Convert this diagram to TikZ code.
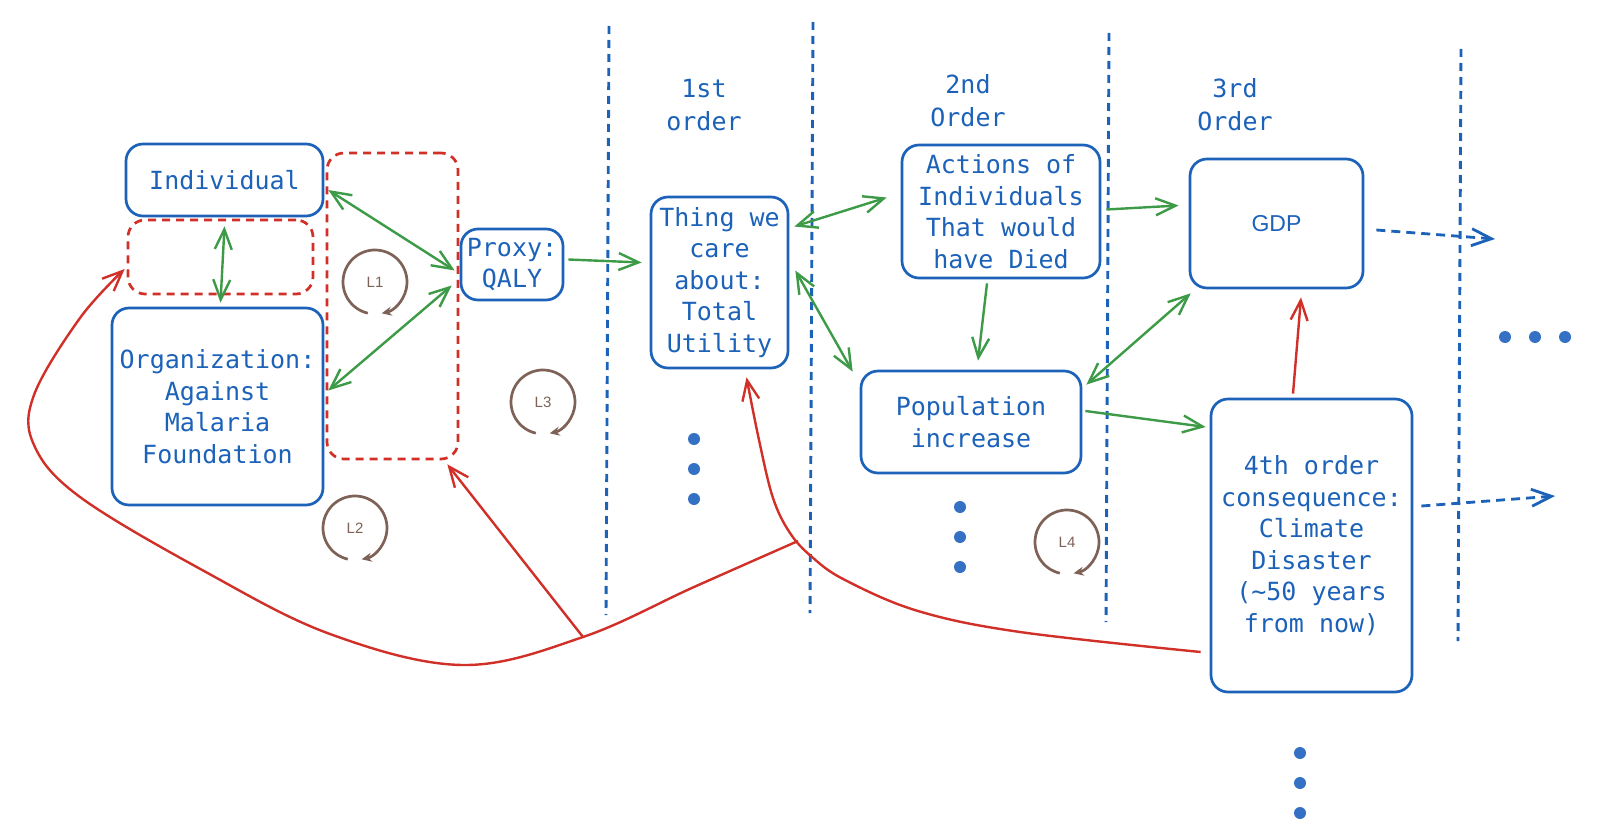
\documentclass[tikz,border=0pt]{standalone}
\usepackage{fontspec}
\setsansfont{Liberation Sans}
\newfontfamily\cmono{DejaVu Sans Mono}
\usetikzlibrary{arrows.meta,calc}
\definecolor{cblue}{HTML}{1C62B9}
\definecolor{cdot}{HTML}{3470C4}
\definecolor{cgreen}{HTML}{3D9A47}
\definecolor{cred}{HTML}{D03028}
\definecolor{cbrown}{HTML}{7E6257}
\begin{document}
\begin{tikzpicture}[x=1pt,y=-1pt,
  >={Straight Barb[length=20pt,width=17pt]},
  box/.style={draw=cblue, line width=2.7pt, rounded corners=17pt, text=cblue,
    font=\cmono\fontsize{25}{31.5}\selectfont, align=center, inner sep=0pt},
  rbox/.style={draw=cred, line width=2.7pt, dash pattern=on 8pt off 6pt, rounded corners=17pt, inner sep=0pt},
  garr/.style={draw=cgreen, line width=2.4pt},
  rarr/.style={draw=cred, line width=2.4pt},
  vline/.style={draw=cblue, line width=2.9pt, dash pattern=on 8pt off 6pt},
  dasharr/.style={draw=cblue, line width=2.8pt, dash pattern=on 9pt off 6pt},
  cyc/.style={draw=cbrown, line width=2.7pt, -{Stealth[length=10pt,width=9pt]}},
  looplab/.style={text=cbrown, font=\sffamily\fontsize{15}{15}\selectfont, inner sep=0pt},
  ordlab/.style={text=cblue, font=\cmono\fontsize{25}{33}\selectfont, align=center},
  bdot/.style={circle, fill=cdot, inner sep=0pt, minimum size=12pt}
]
\fill[white] (0,0) rectangle (1600,832);
\useasboundingbox (0,0) rectangle (1600,832);

% vertical dashed separators
\coordinate (v1a) at (609,26);  \coordinate (v1b) at (606,615);
\coordinate (v2a) at (813,22);  \coordinate (v2b) at (810,613);
\coordinate (v3a) at (1109,33); \coordinate (v3b) at (1106,622);
\coordinate (v4a) at (1461,49); \coordinate (v4b) at (1458,641);
\draw[vline] (v1a) -- (v1b);
\draw[vline] (v2a) -- (v2b);
\draw[vline] (v3a) -- (v3b);
\draw[vline] (v4a) -- (v4b);

% order labels
\node[ordlab] (o1) at (704,105) {1st\\order};
\node[ordlab] (o2) at (968,101) {2nd\\Order};
\node[ordlab] (o3) at (1235,105) {3rd\\Order};

% red dashed groups
\node[rbox, minimum width=185pt, minimum height=74pt] (rs) at (220.5,257) {};
\node[rbox, minimum width=131pt, minimum height=306pt] (rt) at (392.5,306) {};

% boxes
\node[box, minimum width=197pt, minimum height=72pt] (ind) at (224.5,180) {Individual};
\node[box, minimum width=211pt, minimum height=197pt] (org) at (217.5,406.5) {Organization:\\Against\\Malaria\\Foundation};
\node[box, minimum width=102pt, minimum height=71pt] (proxy) at (512,264.5) {Proxy:\\QALY};
\node[box, minimum width=137pt, minimum height=171pt] (thing) at (719.5,282.5) {Thing we\\care\\about:\\Total\\Utility};
\node[box, minimum width=198pt, minimum height=133pt] (act) at (1001,211.5) {Actions of\\Individuals\\That would\\have Died};
\node[box, minimum width=220pt, minimum height=102pt] (pop) at (971,422) {Population\\increase};
\node[box, minimum width=173pt, minimum height=129pt, font=\sffamily\fontsize{23}{23}\selectfont] (gdp) at (1276.5,223.5) {GDP};
\node[box, minimum width=201pt, minimum height=293pt] (fourth) at (1311.5,545.5) {4th order\\consequence:\\Climate\\Disaster\\(\textasciitilde50 years\\from now)};

% green connectors
\draw[garr,<->] ($(ind.south)+(0,9)$) -- ($(org.north)+(3,-4)$);
\draw[garr,<->] ($(ind.east)+(4,10)$) -- ($(proxy.west)+(-5,6)$);
\draw[garr,<->] ($(org.east)+(4,-16)$) -- ($(proxy.west)+(-8,21)$);
\draw[garr,->] ($(proxy.east)+(4,-5)$) -- ($(thing.west)+(-8,-20)$);
\draw[garr,<->] ($(thing.east)+(5,-56)$) -- ($(act.west)+(-14,-14)$);
\draw[garr,<->] ($(thing.east)+(6,-12)$) -- ($(pop.north west)+(-7,2)$);
\draw[garr,->] ($(act.south)+(-14,4)$) -- ($(pop.north)+(7,-9)$);
\draw[garr,->] ($(act.east)+(5,-2)$) -- ($(gdp.west)+(-10,-18)$);
\draw[garr,<->] ($(gdp.south west)+(2,4)$) -- ($(pop.north east)+(4,15)$);
\draw[garr,->] ($(pop.east)+(3,-11)$) -- ($(fourth.west)+(-4,-118.5)$);

% red connectors
\draw[rarr,->] ($(fourth.north)+(-18.5,-4)$) -- ($(gdp.south)+(24.5,8)$);
\coordinate (aS) at ($(fourth.west)+(-9,106.5)$);
\coordinate (aE) at ($(thing.south)+(27,8)$);
\draw[rarr,->] plot[smooth, tension=0.6] coordinates {(aS) (1020,632) (918,611) (845,580) (812,557) (790,533) (773,498) (759,440) (aE)};
\coordinate (bS) at (798,541);
\coordinate (jB) at (583,637);
\coordinate (bE) at ($(rs.west)+(-2,12)$);
\draw[rarr,->] plot[smooth, tension=0.6] coordinates {(bS) (694,587) (jB) (463,665) (330,634) (204,571) (80,497) (34,445) (34,395) (80,318) (bE)};
\draw[rarr,->] (jB) -- ($(rt.south east)+(-12,4)$);

% dashed outgoing arrows
\coordinate (g2) at (1495,239);
\coordinate (f2) at (1555,496);
\draw[dasharr,->] ($(gdp.east)+(12,6.5)$) -- (g2);
\draw[dasharr,->] ($(fourth.east)+(8,-39.5)$) -- (f2);

% loops
\node[looplab] (L1) at (375,282) {L1};
\node[looplab] (L2) at (355,528) {L2};
\node[looplab] (L3) at (543,402) {L3};
\node[looplab] (L4) at (1067,542) {L4};
\foreach \n in {L1,L2,L3,L4}{
  \draw[cyc] (\n.center) ++(-257:32) arc[start angle=-257, end angle=78, radius=32];
}

% ellipsis dots
\node[bdot] (d1) at (694,439) {};
\node[bdot] (d2) at (694,469) {};
\node[bdot] (d3) at (694,499) {};
\node[bdot] (d4) at (960,507) {};
\node[bdot] (d5) at (960,537) {};
\node[bdot] (d6) at (960,567) {};
\node[bdot] (d7) at (1505,337) {};
\node[bdot] (d8) at (1535,337) {};
\node[bdot] (d9) at (1565,337) {};
\node[bdot] (d10) at (1300,753) {};
\node[bdot] (d11) at (1300,783) {};
\node[bdot] (d12) at (1300,813) {};
\end{tikzpicture}
\end{document}
